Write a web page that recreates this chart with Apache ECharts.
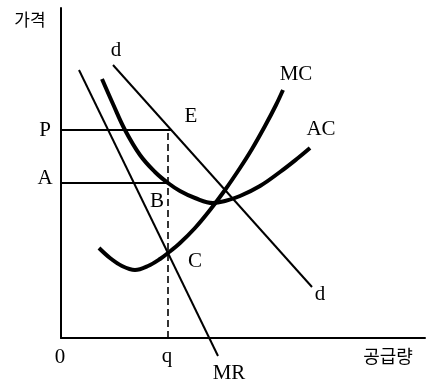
<!DOCTYPE html>
<html>
<head>
<meta charset="utf-8">
<script src="https://cdn.jsdelivr.net/npm/echarts@6/dist/echarts.min.js"></script>
<style>
  html, body { margin: 0; padding: 0; background: #fff; }
  #main { width: 429px; height: 386px; }
</style>
</head>
<body>
<div id="main"></div>
<script>
// 곡선 데이터 (수량, 가격)
var mcQ = [38, 49, 61, 74, 87, 99, 107, 119, 134, 149, 164, 179, 191, 204, 215, 222];
var mcP = [90, 80, 72, 68, 72, 79, 85, 95, 110, 128, 148, 170, 189, 212, 233, 248];

var acQ = [41, 52, 64, 79, 94, 107, 119, 134, 152, 164, 179, 199, 219, 237, 249];
var acP = [259, 234, 208, 183, 166, 155, 147, 140, 135, 137, 142, 152, 166, 180, 190];

var dQ = [52, 251];
var dP = [273, 51];

var mrQ = [18, 157];
var mrP = [268, -18];

var qVal = 107;   // 생산량 q
var pVal = 208;   // 가격 P
var aVal = 155;   // 평균비용 A
var eQ = 111;     // 수요곡선 위 E

function pairs(xs, ys) {
    var out = [];
    for (var i = 0; i < xs.length; i++) {
        out.push([xs[i], ys[i]]);
    }
    return out;
}

var chart = echarts.init(document.getElementById('main'));

var serif = 'Liberation Serif';
var kr = 'Noto Sans CJK KR';

function txt(x, y, s, font, size) {
    return {
        type: 'text',
        x: x,
        y: y,
        style: {
            text: s,
            fill: '#000',
            font: (size || 21) + 'px "' + (font || serif) + '"',
            textAlign: 'center',
            textVerticalAlign: 'middle'
        }
    };
}

var option = {
    animation: false,
    backgroundColor: '#fff',
    grid: { left: 61, right: 4, top: 8, bottom: 48 },
    xAxis: {
        type: 'value',
        min: 0,
        max: 364,
        axisLine: { show: true, lineStyle: { color: '#000', width: 2 } },
        axisTick: { show: false },
        axisLabel: { show: false },
        splitLine: { show: false }
    },
    yAxis: {
        type: 'value',
        min: 0,
        max: 330,
        axisLine: { show: true, lineStyle: { color: '#000', width: 2 } },
        axisTick: { show: false },
        axisLabel: { show: false },
        splitLine: { show: false }
    },
    series: [
        {
            name: 'MC', type: 'line', smooth: 0.35, symbol: 'none', clip: false,
            lineStyle: { color: '#000', width: 4 },
            data: pairs(mcQ, mcP)
        },
        {
            name: 'AC', type: 'line', smooth: 0.4, symbol: 'none', clip: false,
            lineStyle: { color: '#000', width: 4 },
            data: pairs(acQ, acP)
        },
        {
            name: 'd', type: 'line', symbol: 'none', clip: false,
            lineStyle: { color: '#000', width: 2 },
            data: pairs(dQ, dP)
        },
        {
            name: 'MR', type: 'line', symbol: 'none', clip: false,
            lineStyle: { color: '#000', width: 2 },
            data: pairs(mrQ, mrP)
        },
        {
            name: 'P', type: 'line', symbol: 'none',
            lineStyle: { color: '#000', width: 2 },
            data: [[0, pVal], [eQ, pVal]]
        },
        {
            name: 'A', type: 'line', symbol: 'none',
            lineStyle: { color: '#000', width: 2 },
            data: [[0, aVal], [qVal, aVal]]
        },
        {
            name: 'q', type: 'line', symbol: 'none',
            lineStyle: { color: '#000', width: 1.6, type: [7, 4] },
            data: [[qVal, 0], [qVal, pVal]]
        }
    ],
    graphic: [
        txt(30, 20, '가격', kr, 17),
        txt(116, 50, 'd'),
        txt(296, 74, 'MC'),
        txt(191, 116, 'E'),
        txt(321, 129, 'AC'),
        txt(45, 130, 'P'),
        txt(45, 178, 'A'),
        txt(157, 201, 'B'),
        txt(195, 261, 'C'),
        txt(320, 294, 'd'),
        txt(60, 357, '0'),
        txt(167, 356, 'q'),
        txt(229, 373, 'MR'),
        txt(388, 356, '공급량', kr, 18)
    ]
};

chart.setOption(option);
</script>
</body>
</html>
